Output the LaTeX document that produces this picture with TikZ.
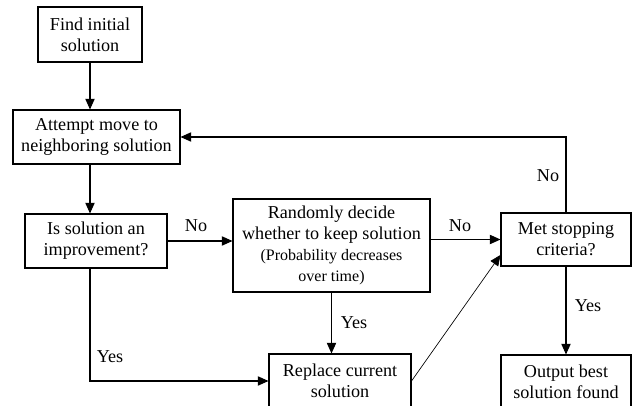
\documentclass[tikz,border=0pt]{standalone}
\usepackage{fontspec}
\setmainfont{Liberation Serif}
\usetikzlibrary{arrows.meta}

\begin{document}
\begin{tikzpicture}[x=0.75pt, y=-0.75pt,
                    box/.style={draw, line width=0.8pt, align=center, inner sep=0pt,
                                font=\fontsize{13.6}{15.75}\selectfont},
                    lbl/.style={inner sep=0pt, font=\fontsize{13.6}{15.75}\selectfont},
                    arr/.style={line width=0.8pt, -{Triangle[length=8pt, width=7pt]}}]
                    \useasboundingbox (0,0) rectangle (640,406);

                    \node[box, minimum width=78pt, minimum height=41.25pt] (find) at (90, 34.5) {Find initial\\solution};
                    \node[box, minimum width=125.25pt, minimum height=40.5pt] (move) at (96.5, 137) {Attempt move to\\neighboring solution};
                    \node[box, minimum width=106.5pt, minimum height=40.5pt] (improve) at (96, 241) {Is solution an\\improvement?};
                    \node[box, minimum width=147.75pt, minimum height=69.75pt] (decide) at (331.5, 245.5) {Randomly decide\\whether to keep solution\\\fontsize{12}{14.25}\selectfont (Probability decreases\\\fontsize{12}{14.25}\selectfont over time)};
                    \node[box, minimum width=97.5pt, minimum height=39.75pt] (stop) at (566, 239.5) {Met stopping\\criteria?};
                    \node[box, minimum width=106.5pt, minimum height=40.5pt] (replace) at (340, 381) {Replace current\\solution};
                    \node[box, minimum width=97.5pt, minimum height=40.5pt] (output) at (566, 382) {Output best\\solution found};

                    \draw[arr] (find.south) -- (find.south |- move.north);
                    \draw[arr] (move.south -| find.south) -- (improve.north -| find.south);
                    \draw[arr] (improve.east) -- (improve.east -| decide.west);
                    \draw[arr] (decide.east |- stop.west) -- (stop.west);
                    \draw[arr] (decide.south) -- (decide.south |- replace.north);
                    \draw[arr] (improve.south -| find.south) |- (replace.west);
                    \draw[arr, line width=0.5pt] (replace.east) -- ([yshift=-11.6pt]stop.west);
                    \draw[arr] (stop.south) -- (output.north);
                    \draw[arr] (stop.north) |- (move.east);

                    \node[lbl] (no1) at (196, 226) {No};
                    \node[lbl] (no2) at (460, 226) {No};
                    \node[lbl] (no3) at (548, 176) {No};
                    \node[lbl] (yes1) at (354, 323) {Yes};
                    \node[lbl] (yes2) at (110, 357) {Yes};
                    \node[lbl] (yes3) at (588, 306) {Yes};
                \end{tikzpicture}
\end{document}
